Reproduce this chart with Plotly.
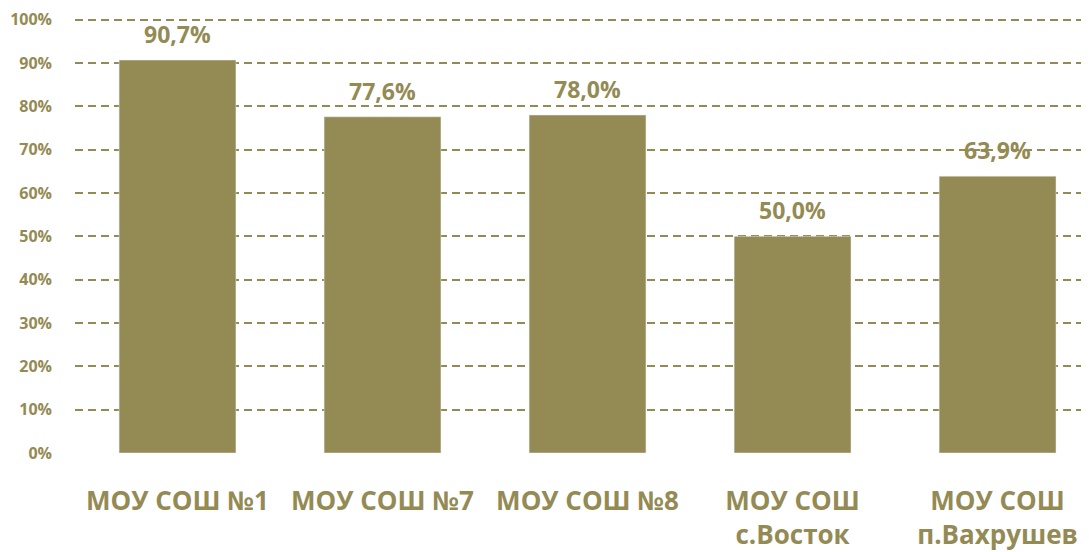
import plotly.graph_objects as go

schools = ['МОУ СОШ №1', 'МОУ СОШ №7', 'МОУ СОШ №8', 'МОУ СОШ<br>с.Восток', 'МОУ СОШ<br>п.Вахрушев']
shares = [0.907, 0.776, 0.780, 0.500, 0.639]
labels = ['90,7%', '77,6%', '78,0%', '50,0%', '63,9%']
y_ticks = [0, 0.1, 0.2, 0.3, 0.4, 0.5, 0.6, 0.7, 0.8, 0.9, 1.0]
y_tick_text = ['0%', '10%', '20%', '30%', '40%', '50%', '60%', '70%', '80%', '90%', '100%']

olive = '#948A54'
font = 'Open Sans'

fig = go.Figure()
fig.add_trace(go.Bar(x=schools, y=shares, marker_color=olive, width=0.57))

for s, v, t in zip(schools, shares, labels):
    fig.add_annotation(x=s, y=v, text=t, showarrow=False, yanchor='bottom', yshift=8,
                       font=dict(family=font, size=23, color=olive, weight='bold'))

# page body has an 8px margin, so the figure is 8px smaller than the window
fig.update_layout(
    width=1081, height=544,
    margin=dict(l=67, r=0, t=2, b=99),
    plot_bgcolor='white', paper_bgcolor='white',
    showlegend=False,
    font=dict(family=font, color=olive),
)
fig.update_xaxes(range=[-0.5, 4.446], showgrid=False, showline=False, ticks='',
                 automargin=False,
                 tickfont=dict(family=font, size=26, color=olive, weight='bold'),
                 ticklabelstandoff=30)
fig.update_yaxes(range=[0, 1.0225], tickvals=y_ticks, ticktext=y_tick_text,
                 showgrid=True, gridcolor=olive, gridwidth=1.8, griddash='8px,5px',
                 zeroline=False, showline=False, ticks='', automargin=False,
                 tickfont=dict(family=font, size=16, color=olive, weight='bold'),
                 ticklabelstandoff=22)

fig.write_html("out.html")
